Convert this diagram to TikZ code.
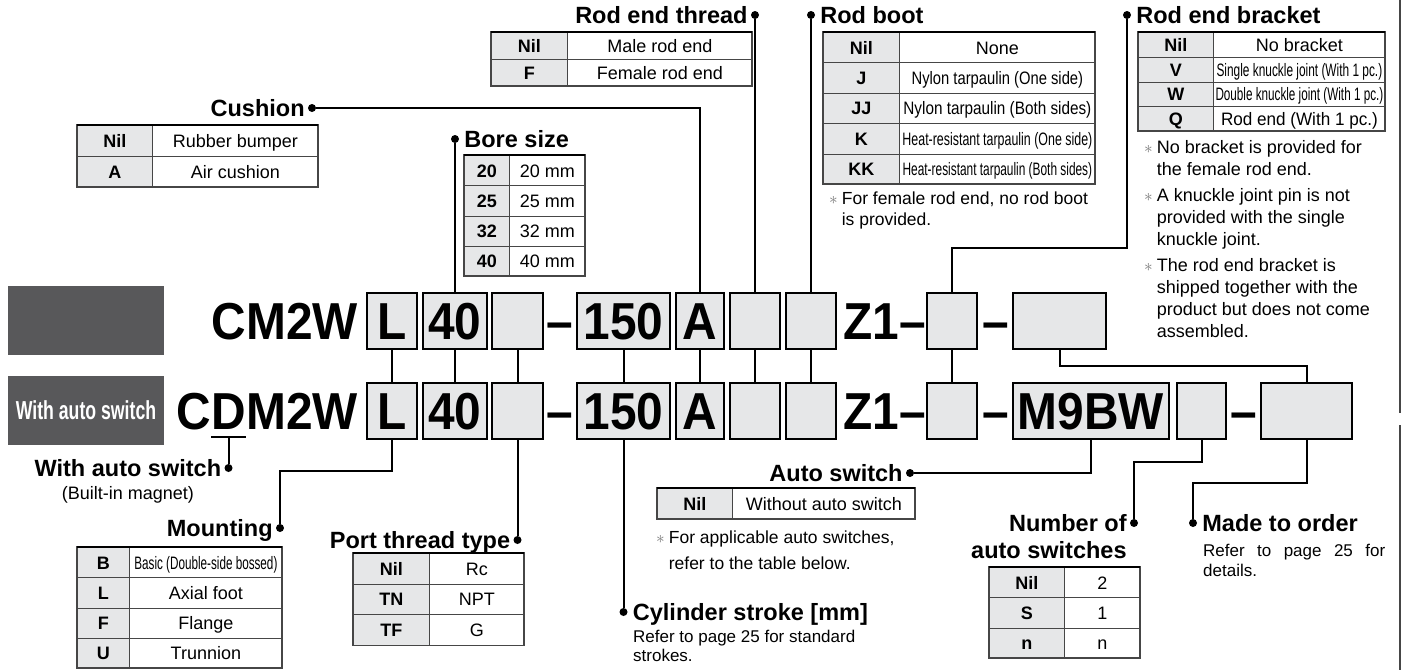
\documentclass[tikz,border=0pt]{standalone}
\usepackage{fontspec}
\usepackage{graphicx}
\usepackage{tikz}
\setmainfont{Liberation Sans}
\newfontfamily\codefam[FakeStretch=0.92, Ligatures=TeX]{Liberation Sans}
\usetikzlibrary{positioning, calc}
\definecolor{cFill}{RGB}{230,231,232}
\definecolor{cTag}{RGB}{88,88,90}
\definecolor{cRule}{RGB}{70,70,70}
\definecolor{cStar}{RGB}{120,120,120}
\newcommand{\codefont}{\codefam\bfseries\fontsize{52}{52}\selectfont}
\newcommand{\headfont}{\bfseries\fontsize{23.5}{26}\selectfont}
\newcommand{\tabfont}{\fontsize{18}{20}\selectfont}
\newcommand{\notefont}{\fontsize{17.5}{21}\selectfont}
\newcommand{\tagfont}{\bfseries\fontsize{26}{28}\selectfont}
\newcommand{\narrow}[2]{\scalebox{#1}[1]{#2}}
\newcommand{\notemark}{{\color{cStar}$\ast$}}
% #1 name, #2 x left, #3 x split, #4 x right, #5 y top, #6 row height, #7 rows, #8 entries
\newcommand{\codetable}[8]{%
	\foreach \c/\d [count=\i] in {#8} {
		\node[codecell, minimum width={#3-#2}, minimum height=#6] (#1c\i) at (#2,{#5+(\i-1)*#6}) {\c};
		\node[desccell, minimum width={#4-#3}, minimum height=#6] (#1d\i) at (#3,{#5+(\i-1)*#6}) {\d};
	}
	\draw[tabframe] (#2,#5) rectangle (#4,{#5+#7*#6});
	\draw[tabtop] (#2,#5) -- (#4,#5);
}
\tikzset{
	cbox/.style     ={rectangle, draw=black, line width=2pt, fill=cFill, minimum height=56pt, inner sep=0pt, font=\codefont, text height=37pt, text depth=0pt},
	ctext/.style    ={inner sep=0pt, font=\codefont, text height=37pt, text depth=0pt},
	tagbox/.style   ={rectangle, fill=cTag, minimum width=156pt, minimum height=69pt, inner sep=0pt, text=white, font=\tagfont},
	ldot/.style     ={circle, fill=black, minimum size=8pt, inner sep=0pt},
	lead/.style     ={line width=2pt, black},
	htext/.style    ={inner sep=0pt, font=\headfont, text height=16.5pt, text depth=0pt},
	ntext/.style    ={inner sep=0pt, font=\notefont},
	% option tables
	codecell/.style ={rectangle, anchor=north west, draw=cRule, line width=0.8pt, fill=cFill, inner sep=0pt, font=\tabfont\bfseries, text height=13pt, text depth=0pt},
	desccell/.style ={rectangle, anchor=north west, draw=cRule, line width=0.8pt, fill=white, inner sep=0pt, font=\tabfont, text height=13pt, text depth=0pt},
	tabframe/.style ={draw=cRule, line width=1.2pt},
	tabtop/.style   ={draw=black, line width=2.2pt},
}
\begin{document}
\begin{tikzpicture}[x=1pt, y=-1pt]
	\useasboundingbox (0,0) rectangle (1401,670);
	\draw[line width=2pt, cRule] (1400,0) -- (1400,413);
	\draw[line width=2pt, cRule] (1400,425) -- (1400,670);
	% model codes
	\node[tagbox] (tagstd) at (86,320.5) {};
	\node[tagbox] (tagsw) at (86,410.5) {\narrow{.68}{With auto switch}};
	\node[ctext, anchor=east] (cm) at (358,321) {CM2W};
	\node[ctext, anchor=east] (cdm3) at (358,411) {M2W};
	\node[ctext, anchor=east] (cdmD) at (cdm3.west) {D};
	\node[ctext, anchor=east] (cdm1) at (cdmD.west) {C};
	\foreach \n/\x/\w/\t in {L/392/50/L, 40/455/64/40, P/517.5/51/, 150/623.5/93/150, A/700/48/A, T/755/50/, R/811/50/, S/952/50/} {
		\node[cbox, minimum width=\w] (t\n) at (\x,321) {\t};
		\node[cbox, minimum width=\w] (b\n) at (\x,411) {\t};
		\draw[lead] (t\n) -- (b\n);
	}
	\node[cbox, minimum width=93] (tX) at (1059.5,321) {};
	\node[cbox, minimum width=156] (bM) at (1091,411) {M9BW};
	\node[cbox, minimum width=49] (bN) at (1201.5,411) {};
	\node[cbox, minimum width=91] (bX) at (1306.5,411) {};
	\foreach \r/\y in {t/321, b/411} {
		\node[ctext] (\r-dash1) at (559.5,\y) {–};
		\node[ctext, anchor=west] (\r-z) at (843,\y) {Z1–};
		\node[ctext] (\r-dash2) at (996,\y) {–};
	}
	\node[ctext] (b-dash3) at (1243.5,411) {–};
	\draw[lead] (tX) |- ($(tX.south)!.5!(bX.north)$) -| (bX);

	% upper callouts
	\node[ldot] (dcush) at (312,108) {};
	\node[htext, left=3pt of dcush] (hcush) {Cushion};
	\codetable{cush}{77}{152}{318}{125}{31}{2}{Nil/Rubber bumper, A/Air cushion}
	\draw[lead] (dcush) -| (tA);

	\node[ldot] (dbore) at (t40.north |- 0,139) {};
	\node[htext, right=5pt of dbore] (hbore) {Bore size};
	\codetable{bore}{464}{509}{585}{155}{30.25}{4}{20/20 mm, 25/25 mm, 32/32 mm, 40/40 mm}
	\draw[lead] (dbore) -- (t40);

	\node[ldot] (dthr) at (tT.north |- 0,15) {};
	\node[htext, left=3pt of dthr] (hthr) {Rod end thread};
	\codetable{thr}{491}{567}{752}{32}{27}{2}{Nil/Male rod end, F/Female rod end}
	\draw[lead] (dthr) -- (tT);

	\node[ldot] (dboot) at (tR.north |- 0,15) {};
	\node[htext, right=5pt of dboot] (hboot) {Rod boot};
	\codetable{boot}{823}{899}{1095}{32}{30.4}{5}{Nil/None, J/\narrow{.82}{Nylon tarpaulin (One side)}, JJ/\narrow{.85}{Nylon tarpaulin (Both sides)}, K/\narrow{.69}{Heat-resistant tarpaulin (One side)}, KK/\narrow{.66}{Heat-resistant tarpaulin (Both sides)}}
	\draw[lead] (dboot) -- (tR);
	\node[ntext, anchor=north west] (nboot) at (829,190) {\begin{tabular}{@{}l@{\hspace{4pt}}l@{}}\notemark & For female rod end, no rod boot\\ & is provided.\end{tabular}};

	\node[ldot] (dbrk) at (1127,15) {};
	\node[htext, right=5pt of dbrk] (hbrk) {Rod end bracket};
	\codetable{brk}{1138}{1213}{1385}{32}{24.75}{4}{Nil/No bracket, V/\narrow{.66}{Single knuckle joint (With 1 pc.)}, W/\narrow{.65}{Double knuckle joint (With 1 pc.)}, Q/\narrow{.95}{Rod end (With 1 pc.)}}
	\coordinate (kbrk) at (tS.north |- 0,248);
	\draw[lead] (dbrk) |- (kbrk) -- (tS);
	\node[ntext, anchor=north west, font=\fontsize{18}{22}\selectfont] (nbrk) at (1144,137.6) {\begin{tabular}{@{}l@{\hspace{4pt}}l@{}}\notemark & No bracket is provided for\\ & the female rod end.\\[4pt] \notemark & A knuckle joint pin is not\\ & provided with the single\\ & knuckle joint.\\[4pt] \notemark & The rod end bracket is\\ & shipped together with the\\ & product but does not come\\ & assembled.\end{tabular}};

	% lower callouts
	\draw[lead] ([yshift=-7pt]cdmD.south west) -- ([yshift=-7pt]cdmD.south east);
	\node[ldot] (dwas) at (cdmD.south |- 0,468) {};
	\node[htext, left=3pt of dwas] (hwas) {With auto switch};
	\node[ntext, anchor=north, font=\fontsize{18}{22}\selectfont] (nwas) at (hwas.south |- 0,486) {(Built-in magnet)};
	\draw[lead] ([yshift=-7pt]cdmD.south) -- (dwas);

	\node[ldot] (dmnt) at (280,528) {};
	\node[htext, left=3pt of dmnt] (hmnt) {Mounting};
	\codetable{mnt}{77}{129}{282}{547}{30.25}{4}{B/\narrow{.65}{Basic (Double-side bossed)}, L/Axial foot, F/Flange, U/Trunnion}
	\coordinate (kmnt) at (dmnt |- 0,471);
	\draw[lead] (bL) |- (kmnt) -- (dmnt);

	\node[ldot] (dport) at (bP.south |- 0,540) {};
	\node[htext, left=3pt of dport] (hport) {Port thread type};
	\codetable{port}{353}{429}{524}{553}{30.7}{3}{Nil/Rc, TN/NPT, TF/G}
	\draw[lead] (bP) -- (dport);

	\node[ldot] (dstk) at (b150.south |- 0,612) {};
	\node[htext, right=5pt of dstk] (hstk) {Cylinder stroke [mm]};
	\node[ntext, anchor=north west, align=left, font=\fontsize{17}{19.5}\selectfont] (nstk) at (633,629.5) {Refer to page 25 for standard\\strokes.};
	\draw[lead] (b150) -- (dstk);

	\node[ldot] (dauto) at (910,473) {};
	\node[htext, left=3pt of dauto] (hauto) {Auto switch};
	\codetable{auto}{657}{732}{915}{488}{31}{1}{Nil/Without auto switch}
	\draw[lead] (bM) |- (dauto);
	\node[ntext, anchor=north west, font=\fontsize{17.5}{26}\selectfont] (nauto) at (656,525) {\begin{tabular}{@{}l@{\hspace{4pt}}l@{}}\notemark & For applicable auto switches,\\ & refer to the table below.\end{tabular}};

	\node[ldot] (dnum) at (1134,523) {};
	\node[htext, left=3pt of dnum] (hnum) {Number of};
	\node[htext, anchor=north east] (hnum2) at ([yshift=-10.5pt]hnum.south east) {auto switches};
	\codetable{num}{989}{1064}{1140}{567}{30.3}{3}{Nil/2, S/1, n/n}
	\coordinate (knum) at (dnum |- 0,462);
	\draw[lead] (bN) |- (knum) -- (dnum);

	\node[ldot] (dmto) at (1193,523) {};
	\node[htext, right=5pt of dmto] (hmto) {Made to order};
	\node[ntext, anchor=north west, align=left, font=\fontsize{17}{20}\selectfont] (nmto) at (1203,543.5) {\makebox[182pt][s]{Refer to page 25 for}\\details.};
	\coordinate (kmto) at (dmto |- 0,483);
	\draw[lead] (bX) |- (kmto) -- (dmto);
\end{tikzpicture}
\end{document}
